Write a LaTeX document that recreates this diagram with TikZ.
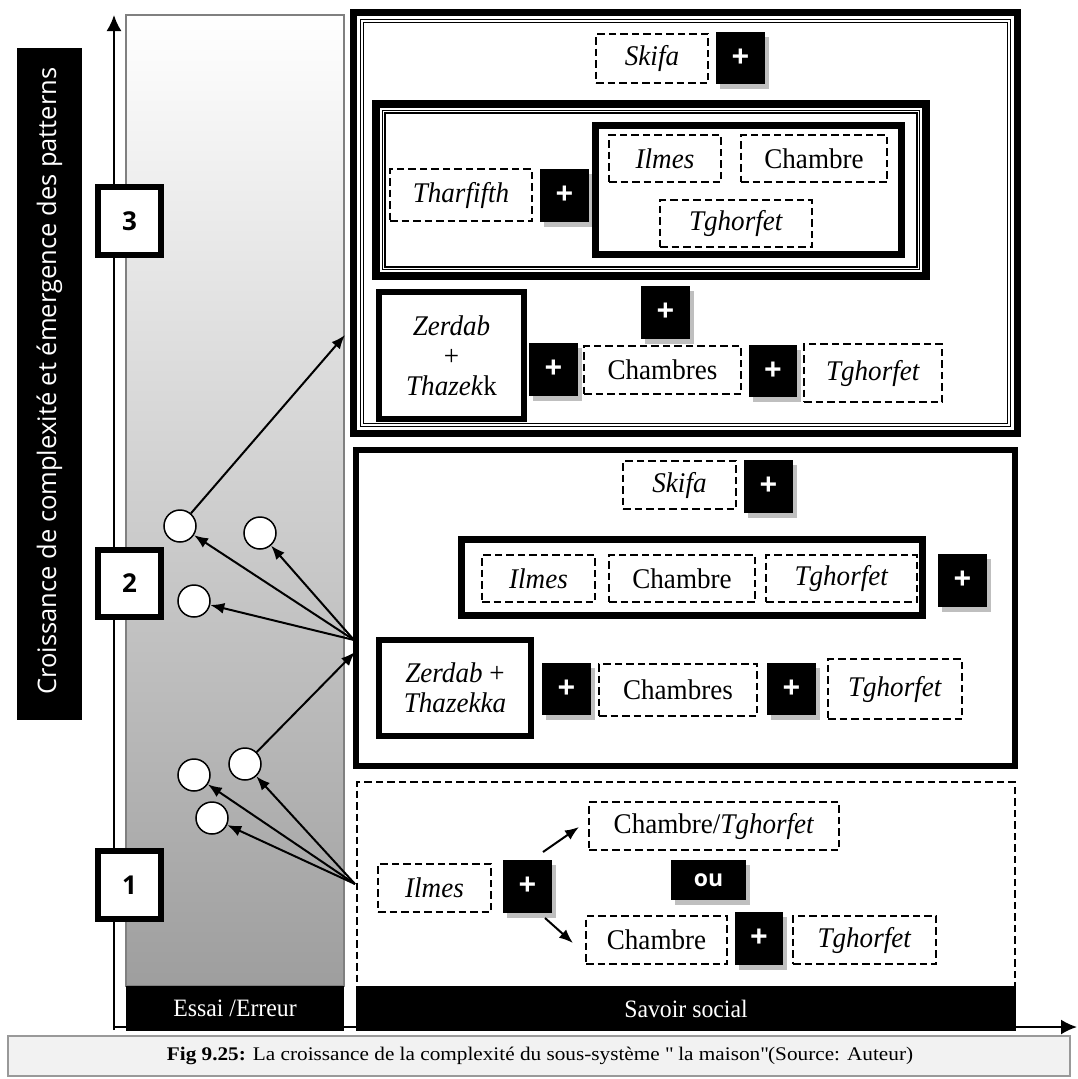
\documentclass[tikz,border=0pt]{standalone}
\usepackage{fontspec}
\setmainfont{Liberation Serif}[FakeStretch=0.95]
\newfontfamily\capfont{Liberation Serif}[FakeStretch=1.1]
\newfontfamily\osans{Open Sans}
\usetikzlibrary{arrows.meta,calc,shadows}
\begin{document}
\begin{tikzpicture}[x=1pt,y=-1pt,
  sz/.style 2 args={minimum width=#1pt, minimum height=#2pt},
  base/.style={inner sep=0pt, outer sep=0pt},
  dbox/.style={base, draw, dash pattern=on 7.5pt off 4pt, line width=2pt, font=\fontsize{28.5}{31}\selectfont},
  tbox/.style={base, draw, line width=#1},
  pbox/.style={base, fill=black, text=white, font=\osans\bfseries\fontsize{31}{31}\selectfont,
     drop shadow={shadow xshift=3.5pt, shadow yshift=-5pt, fill=black!25, opacity=1}},
  numbox/.style={base, draw, fill=white, line width=6pt, font=\osans\bfseries\fontsize{26}{26}\selectfont},
  circ/.style={circle, draw, fill=white, line width=1.5pt, minimum size=32pt, inner sep=0pt},
  arr/.style={line width=2pt, -{Latex[length=14pt,width=11pt]}},
  axarr/.style={line width=2pt, -{Latex[length=16pt,width=15pt]}},
  thinl/.style={line width=1.2pt},
  bar/.style={base, fill=black, text=white, font=\fontsize{25}{27}\selectfont}
]
\useasboundingbox (0,0) rectangle (1078,1079);

% axes
\coordinate (O) at (114,1030);
\coordinate (Ytop) at (114,15);
\coordinate (Ox) at (113,1027);
\coordinate (Xend) at (1077,1027);
\draw[axarr] (O) -- (Ytop);
\draw[axarr] (Ox) -- (Xend);

% vertical label
\node[base, fill=black, sz={65}{672}] (vlab) at (49.5,384) {};
\node[rotate=90, text=white, font=\osans\fontsize{25.5}{25.5}\selectfont] (vtext) at (49.5,381) {Croissance de complexité et émergence des patterns};

% gradient column
\shade[top color=white, bottom color=black!38] (126,15) rectangle (344,986);
\draw[black!50, line width=1.5pt] (126,15) rectangle (344,986);

% number boxes
\node[numbox, sz={63}{68}] (N3) at (129.5,221) {3};
\node[numbox, sz={63}{67}] (N2) at (129.5,583.5) {2};
\node[numbox, sz={63}{68}] (N1) at (129.5,885) {1};

% bottom bars
\node[bar, sz={218}{45}] (essai) at (235,1008.5) {Essai /Erreur};

% caption
\node[base, fill=black!5, draw=black!40, line width=1.5pt, sz={1062}{40}] (capbox) at (539,1056) {};
\node[font=\capfont\fontsize{19.3}{22}\selectfont] (cap) at (540,1056) {\textbf{Fig 9.25:} La croissance de la complexité du sous-système \textquotedbl{} la maison\textquotedbl(Source: Auteur)};

% ===== Level 3 =====
\node[tbox=7pt, sz={664}{421}] (T3) at (685.5,223) {};
\draw[thinl] ($(T3.north west)+(7,7)$) rectangle ($(T3.south east)+(-7,-7)$);
\draw[thinl] ($(T3.north west)+(10,10)$) rectangle ($(T3.south east)+(-10,-10)$);

\node[dbox, sz={112}{49}] (skifa3) at (652,58.5) {\textit{Skifa}};
\node[pbox, sz={49}{52}] (p3a) at (740.5,58) {+};

\node[tbox=8pt, sz={550}{172}] (G3) at (651,190) {};
\draw[thinl] ($(G3.north west)+(6.5,6.5)$) rectangle ($(G3.south east)+(-6.5,-6.5)$);
\draw[thinl] ($(G3.north west)+(9,9)$) rectangle ($(G3.south east)+(-9,-9)$);

\node[dbox, sz={142}{52}] (thar) at (461,195) {\textit{Tharfifth}};
\node[pbox, sz={49}{53}] (p3b) at (564.5,195.5) {+};
\node[tbox=7pt, sz={306}{129}] (I3) at (748.5,190) {};
\node[dbox, sz={112}{47}] (ilmes3) at (665,158.5) {\textit{Ilmes}};
\node[dbox, sz={146}{47}] (chambre3) at (814,158.5) {Chambre};
\node[dbox, sz={152}{47}] (tgh3a) at (736,223.5) {\textit{Tghorfet}};

\node[pbox, sz={49}{53}] (p3c) at (665.5,312.5) {+};
\node[tbox=6pt, sz={145}{127}, align=center, font=\fontsize{28.5}{30}\selectfont] (zer3) at (451.5,355.5) {\textit{Zerdab}\\+\\\textit{Thazek}k};
\node[pbox, sz={49}{53}] (p3d) at (553.5,369.5) {+};
\node[dbox, sz={157}{48}] (chambres3) at (662.5,370) {Chambres};
\node[pbox, sz={48}{52}] (p3e) at (773,371) {+};
\node[dbox, sz={138}{58}] (tgh3b) at (873,373) {\textit{Tghorfet}};

% ===== Level 2 =====
\node[tbox=6pt, sz={659}{316}] (L2) at (685.5,608) {};
\node[dbox, sz={113}{48}] (skifa2) at (679.5,485) {\textit{Skifa}};
\node[pbox, sz={49}{53}] (p2a) at (768.5,486.5) {+};
\node[tbox=7pt, sz={461}{76}] (I2) at (692,577.5) {};
\node[dbox, sz={113}{47}] (ilmes2) at (538.5,578.5) {\textit{Ilmes}};
\node[dbox, sz={146}{47}] (chambre2) at (682,578.5) {Chambre};
\node[dbox, sz={151}{47}] (tgh2a) at (841.5,578.5) {\textit{Tghorfet}};
\node[pbox, sz={49}{53}] (p2b) at (962.5,580.5) {+};
\node[tbox=6pt, sz={152}{96}, align=center, font=\fontsize{28.5}{30}\selectfont] (zer2) at (455,688) {\textit{Zerdab} +\\\textit{Thazekka}};
\node[pbox, sz={49}{52}] (p2c) at (566.5,689) {+};
\node[dbox, sz={158}{52}] (chambres2) at (678,690) {Chambres};
\node[pbox, sz={49}{52}] (p2d) at (791.5,689) {+};
\node[dbox, sz={134}{60}] (tgh2b) at (895,689) {\textit{Tghorfet}};

% ===== Level 1 =====
\node[dbox, sz={658}{205}] (L1) at (686,884.5) {};
\node[bar, sz={660}{45}] (savoir) at (686,1008.5) {Savoir social};
\node[dbox, sz={113}{48}] (ilmes1) at (434.5,888) {\textit{Ilmes}};
\node[pbox, sz={49}{53}] (p1a) at (527.5,886.5) {+};
\node[dbox, sz={250}{48}] (cht1) at (714,826) {Chambre/\textit{Tghorfet}};
\node[pbox, sz={75}{40}, font=\osans\bfseries\fontsize{23}{23}\selectfont] (ou) at (708.5,880) {ou};
\node[dbox, sz={141}{48}] (chambre1) at (656.5,940) {Chambre};
\node[pbox, sz={48}{53}] (p1b) at (759,938.5) {+};
\node[dbox, sz={143}{48}] (tgh1) at (864.5,940) {\textit{Tghorfet}};
\draw[arr] ($(p1a.north east)+(-9,-8)$) -- ($(cht1.west)+(-10,1)$);
\draw[arr] ($(p1a.south east)+(-7,5)$) -- ($(chambre1.west)+(-13,3)$);

% ===== trials (circles) =====
\node[circ] (c1) at (180,526) {};
\node[circ] (c2) at (260,533) {};
\node[circ] (c3) at (194,601) {};
\node[circ] (c4) at (245,764) {};
\node[circ] (c5) at (194,775) {};
\node[circ] (c6) at (212,818) {};
\coordinate (P2) at (354,640);
\coordinate (P1) at (355,884);
\coordinate (A3) at (345,335);
\coordinate (A2) at (355,652);
\draw[arr] (c1) -- (A3);
\draw[arr] (P2) -- (c1);
\draw[arr] (P2) -- (c2);
\draw[arr] (P2) -- (c3);
\draw[arr] (c4) -- (A2);
\draw[arr] (P1) -- (c4);
\draw[arr] (P1) -- (c5);
\draw[arr] (P1) -- (c6);
\end{tikzpicture}
\end{document}
